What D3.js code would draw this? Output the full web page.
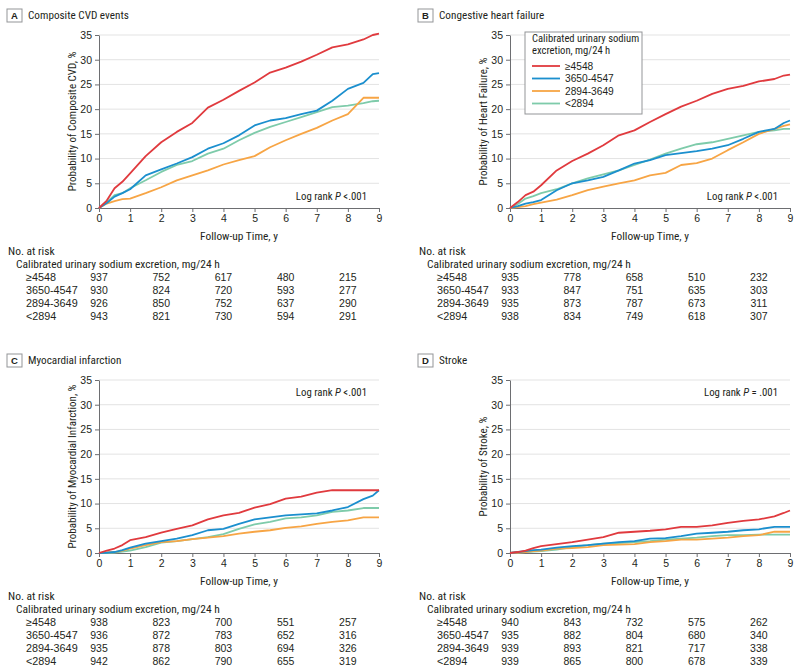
<!DOCTYPE html>
<html>
<head>
<meta charset="utf-8">
<script src="https://cdn.jsdelivr.net/npm/d3@7/dist/d3.min.js"></script>
<style>
body { margin: 0; background: #fff; }
svg { font-family: "Roboto Condensed", "Roboto", sans-serif; }
.num { font-family: "Liberation Sans", Arial, sans-serif; }
</style>
</head>
<body>
<div id="chart"></div>
<script>
var times = [0, 0.25, 0.5, 0.75, 1, 1.5, 2, 2.5, 3, 3.5, 4, 4.5, 5, 5.5, 6, 6.5, 7, 7.5, 8, 8.5, 8.8, 9];
var groups = ['≥4548', '3650-4547', '2894-3649', '<2894'];
var colors = ['#e03a3e', '#1b8fce', '#f7a545', '#7ecbaa'];
var yTicks = [0, 5, 10, 15, 20, 25, 30, 35];
var xTicks = [0, 1, 2, 3, 4, 5, 6, 7, 8, 9];
var riskTimes = [0, 2, 4, 6, 8];

// A composite CVD
var cvdHigh = [0, 1.5, 4.0, 5.3, 7.0, 10.5, 13.3, 15.4, 17.2, 20.3, 21.9, 23.7, 25.4, 27.4, 28.4, 29.6, 31.0, 32.5, 33.1, 34.1, 35.0, 35.3];
var cvdMid = [0, 1.0, 2.3, 3.0, 3.8, 6.6, 7.8, 9.0, 10.3, 12.0, 13.1, 14.7, 16.7, 17.7, 18.2, 19.0, 19.7, 21.7, 24.1, 25.3, 27.1, 27.3];
var cvdLowMid = [0, 0.9, 1.4, 1.8, 1.9, 3.0, 4.2, 5.6, 6.6, 7.6, 8.8, 9.7, 10.5, 12.3, 13.7, 15.0, 16.2, 17.7, 19.0, 22.3, 22.3, 22.3];
var cvdLow = [0, 1.2, 2.6, 3.0, 4.0, 5.6, 7.3, 8.7, 9.5, 11.0, 12.0, 13.7, 15.2, 16.4, 17.4, 18.4, 19.4, 20.4, 20.7, 21.2, 21.6, 21.7];
var riskCvd = [[937, 752, 617, 480, 215], [930, 824, 720, 593, 277], [926, 850, 752, 637, 290], [943, 821, 730, 594, 291]];

// B heart failure
var hfHigh = [0, 1.2, 2.6, 3.3, 4.6, 7.6, 9.5, 11.0, 12.7, 14.7, 15.7, 17.4, 19.0, 20.5, 21.7, 23.1, 24.1, 24.7, 25.6, 26.1, 26.8, 27.0];
var hfMid = [0, 0.4, 0.9, 1.2, 1.6, 3.6, 5.0, 5.6, 6.3, 7.6, 9.0, 9.7, 10.7, 11.1, 11.5, 12.0, 12.7, 14.0, 15.4, 16.0, 17.2, 17.7];
var hfLowMid = [0, 0.2, 0.4, 0.8, 1.1, 1.7, 2.6, 3.6, 4.3, 5.0, 5.6, 6.6, 7.1, 8.7, 9.1, 10.0, 11.7, 13.3, 15.0, 16.0, 16.6, 16.9];
var hfLow = [0, 0.8, 1.9, 2.4, 3.0, 3.8, 5.0, 6.0, 6.8, 7.6, 8.7, 9.8, 11.0, 12.0, 12.9, 13.3, 14.0, 14.7, 15.4, 15.7, 16.0, 16.0];
var riskHf = [[935, 778, 658, 510, 232], [933, 847, 751, 635, 303], [935, 873, 787, 673, 311], [938, 834, 749, 618, 307]];

// C myocardial infarction
var miHigh = [0, 0.5, 0.9, 1.6, 2.6, 3.2, 4.1, 4.9, 5.6, 6.8, 7.6, 8.1, 9.2, 9.9, 11.0, 11.4, 12.2, 12.7, 12.7, 12.7, 12.7, 12.7];
var miMid = [0, 0.05, 0.2, 0.6, 1.1, 1.9, 2.4, 2.9, 3.6, 4.6, 4.9, 5.9, 6.8, 7.2, 7.6, 7.8, 8.0, 8.6, 9.3, 10.9, 11.6, 12.7];
var miLowMid = [0, 0.1, 0.2, 0.5, 0.9, 1.6, 2.2, 2.4, 2.8, 3.1, 3.4, 3.9, 4.3, 4.6, 5.1, 5.4, 5.9, 6.3, 6.6, 7.2, 7.2, 7.2];
var miLow = [0, 0, 0.1, 0.3, 0.5, 1.2, 2.1, 2.4, 2.8, 3.2, 3.8, 4.9, 5.8, 6.3, 7.0, 7.2, 7.6, 8.3, 8.6, 9.1, 9.1, 9.1];
var riskMi = [[938, 823, 700, 551, 257], [936, 872, 783, 652, 316], [935, 878, 803, 694, 326], [942, 862, 790, 655, 319]];

// D stroke
var stHigh = [0, 0.2, 0.5, 1.0, 1.4, 1.8, 2.2, 2.7, 3.2, 4.1, 4.3, 4.5, 4.8, 5.3, 5.3, 5.6, 6.1, 6.5, 6.8, 7.4, 8.1, 8.6];
var stMid = [0, 0.2, 0.4, 0.6, 0.7, 1.1, 1.4, 1.6, 1.9, 2.2, 2.4, 2.9, 3.0, 3.4, 3.9, 4.1, 4.3, 4.6, 4.8, 5.3, 5.3, 5.3];
var stLowMid = [0, 0.1, 0.2, 0.4, 0.5, 0.9, 1.0, 1.2, 1.6, 1.7, 1.8, 2.2, 2.4, 2.7, 2.7, 2.9, 3.1, 3.4, 3.6, 4.3, 4.3, 4.3];
var stLow = [0, 0.1, 0.2, 0.3, 0.4, 0.7, 1.2, 1.6, 1.9, 2.0, 2.2, 2.4, 2.7, 2.9, 3.1, 3.4, 3.6, 3.6, 3.7, 3.7, 3.7, 3.7];
var riskSt = [[940, 843, 732, 575, 262], [935, 882, 804, 680, 340], [939, 893, 821, 717, 338], [939, 865, 800, 678, 339]];

var W = 800, H = 672;
var plotW = 280, plotH = 173;

var panels = [
    {letter: 'A', title: 'Composite CVD events', yLabel: 'Probability of Composite CVD, %', p: '<.001', pTop: false,
        series: [cvdHigh, cvdMid, cvdLowMid, cvdLow], risk: riskCvd, left: 99, top: 35, legend: false},
    {letter: 'B', title: 'Congestive heart failure', yLabel: 'Probability of Heart Failure, %', p: '<.001', pTop: false,
        series: [hfHigh, hfMid, hfLowMid, hfLow], risk: riskHf, left: 510, top: 35, legend: true},
    {letter: 'C', title: 'Myocardial infarction', yLabel: 'Probability of Myocardial Infarction, %', p: '<.001', pTop: true,
        series: [miHigh, miMid, miLowMid, miLow], risk: riskMi, left: 99, top: 380, legend: false},
    {letter: 'D', title: 'Stroke', yLabel: 'Probability of Stroke, %', p: '= .001', pTop: true,
        series: [stHigh, stMid, stLowMid, stLow], risk: riskSt, left: 510, top: 380, legend: false}
];

var svg = d3.select('#chart').append('svg').attr('width', W).attr('height', H);
var textCol = '#231f20';
var axisCol = '#6d6e71';

panels.forEach(function (pn) {
    var g = svg.append('g').attr('transform', 'translate(' + pn.left + ',' + pn.top + ')');
    var x = d3.scaleLinear().domain([0, 9]).range([0, plotW]);
    var y = d3.scaleLinear().domain([0, 35]).range([plotH, 0]);

    // panel label
    g.append('rect').attr('x', -92).attr('y', -26).attr('width', 15).attr('height', 13)
        .attr('fill', '#fff').attr('stroke', '#939598').attr('stroke-width', 1);
    g.append('text').attr('x', -84.5).attr('y', -19.5).attr('text-anchor', 'middle').attr('dominant-baseline', 'central')
        .attr('class', 'num').attr('font-size', 9.5).attr('font-weight', 'bold').attr('fill', textCol).text(pn.letter);
    g.append('text').attr('x', -71).attr('y', -19.5).attr('dominant-baseline', 'central')
        .attr('font-size', 11.2).attr('fill', textCol).text(pn.title);

    // grid
    g.selectAll('.grid').data(yTicks.slice(1)).enter().append('line')
        .attr('x1', 0).attr('x2', plotW).attr('y1', function (d) { return y(d); }).attr('y2', function (d) { return y(d); })
        .attr('stroke', '#e3e3e3').attr('stroke-width', 1);

    // axes
    var ya = g.append('g').call(d3.axisLeft(y).tickValues(yTicks).tickSize(4).tickPadding(3).tickSizeOuter(0));
    var xa = g.append('g').attr('transform', 'translate(0,' + plotH + ')')
        .call(d3.axisBottom(x).tickValues(xTicks).tickSize(4).tickPadding(3).tickSizeOuter(0));
    [ya, xa].forEach(function (a) {
        a.attr('font-family', null);
        a.select('.domain').attr('stroke', axisCol);
        a.selectAll('.tick line').attr('stroke', axisCol);
        a.selectAll('.tick text').attr('class', 'num').attr('font-size', 10.5).attr('fill', textCol);
    });

    g.append('text').attr('transform', 'translate(-27,' + plotH / 2 + ') rotate(-90)')
        .attr('text-anchor', 'middle').attr('dominant-baseline', 'central').attr('font-size', 11).attr('fill', textCol)
        .text(pn.yLabel);
    g.append('text').attr('x', plotW / 2).attr('y', plotH + 28).attr('text-anchor', 'middle').attr('dominant-baseline', 'central')
        .attr('font-size', 11.4).attr('fill', textCol).text('Follow-up Time, y');

    // curves
    var line = d3.line().x(function (d, i) { return x(times[i]); }).y(function (d) { return y(d); });
    var order = [3, 2, 1, 0];
    order.forEach(function (k) {
        g.append('path').datum(pn.series[k]).attr('d', line).attr('fill', 'none')
            .attr('stroke', colors[k]).attr('stroke-width', 1.8).attr('stroke-linejoin', 'round');
    });

    // log rank
    var pt = g.append('text').attr('x', 268).attr('y', pn.pTop ? 12 : plotH - 12).attr('text-anchor', 'end')
        .attr('dominant-baseline', 'central').attr('font-size', 10.8).attr('fill', textCol);
    pt.append('tspan').text('Log rank ');
    pt.append('tspan').attr('font-style', 'italic').text('P');
    pt.append('tspan').text(' ' + pn.p);

    // legend
    if (pn.legend) {
        var lg = g.append('g').attr('transform', 'translate(15,-3)');
        lg.append('rect').attr('width', 117).attr('height', 82).attr('fill', '#fff').attr('stroke', '#939598');
        lg.append('text').attr('x', 7).attr('y', 6).attr('dominant-baseline', 'central').attr('font-size', 10.6)
            .attr('fill', textCol).text('Calibrated urinary sodium');
        lg.append('text').attr('x', 7).attr('y', 18.5).attr('dominant-baseline', 'central').attr('font-size', 10.6)
            .attr('fill', textCol).text('excretion, mg/24 h');
        groups.forEach(function (name, i) {
            var yy = 34 + 12.5 * i;
            lg.append('line').attr('x1', 7).attr('x2', 35).attr('y1', yy).attr('y2', yy)
                .attr('stroke', colors[i]).attr('stroke-width', 1.8);
            lg.append('text').attr('class', 'num').attr('x', 40).attr('y', yy).attr('dominant-baseline', 'central').attr('font-size', 10.2)
                .attr('fill', textCol).text(name);
        });
    }

    // risk table
    var rt = g.append('g').attr('fill', textCol);
    rt.append('text').attr('x', -91).attr('y', plotH + 43).attr('dominant-baseline', 'central').attr('font-size', 11.5).text('No. at risk');
    rt.append('text').attr('x', -83).attr('y', plotH + 56).attr('dominant-baseline', 'central').attr('font-size', 11.5)
        .text('Calibrated urinary sodium excretion, mg/24 h');
    groups.forEach(function (name, i) {
        var yy = plotH + 69 + 13 * i;
        rt.append('text').attr('class', 'num').attr('x', -73).attr('y', yy).attr('dominant-baseline', 'central')
            .attr('font-size', 10.8).text(name);
        rt.selectAll('.n' + i).data(pn.risk[i]).enter().append('text').attr('class', 'num')
            .attr('x', function (d, j) { return x(riskTimes[j]); }).attr('y', yy).attr('font-size', 10.5)
            .attr('text-anchor', 'middle').attr('dominant-baseline', 'central').text(function (d) { return d; });
    });
});
</script>
</body>
</html>
